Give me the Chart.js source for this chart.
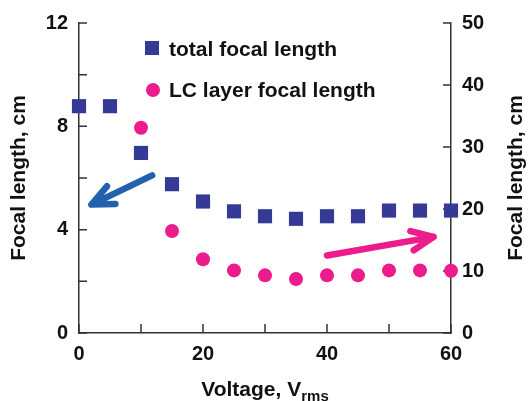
<!DOCTYPE html>
<html><head>
<meta charset="utf-8">
<script src="https://cdn.jsdelivr.net/npm/chart.js@4/dist/chart.umd.min.js"></script>
<style>
  html, body { margin: 0; padding: 0; background: #fff; }
  canvas { display: block; }
</style>
</head>
<body>
<canvas id="myChart" width="529" height="401"></canvas>
<script>
// total focal length (left axis, cm)
var voltage = [0, 5, 10, 15, 20, 25, 30, 35, 40, 45, 50, 55, 60];
var totalFocal = [8.78, 8.78, 6.97, 5.76, 5.09, 4.71, 4.52, 4.42, 4.52, 4.52, 4.74, 4.74, 4.74];
// LC layer focal length (right axis, cm)
var lcVoltage = [10, 15, 20, 25, 30, 35, 40, 45, 50, 55, 60];
var lcFocal = [33.1, 16.45, 11.9, 10.1, 9.3, 8.7, 9.3, 9.3, 10.1, 10.1, 10.05];
var seriesNames = ['total focal length', 'LC layer focal length'];
// annotation arrows: [x0, y0, x1, y1] in data units
var blueArrow = [11.8, 6.1, 2.0, 4.97];   // left axis
var pinkArrow = [40.0, 12.5, 57.2, 15.5]; // right axis

var FONT = '"Liberation Sans", Arial, sans-serif';
var BLUE = '#343a95';
var PINK = '#ec1c8c';

function pts(xs, ys) {
  return xs.map(function(v, i) { return {x: v, y: ys[i]}; });
}

function arrow(ctx, x0, y0, x1, y1, color) {
  var ang = Math.atan2(y0 - y1, x0 - x1);
  var w = 24, spread = 24 * Math.PI / 180;
  ctx.strokeStyle = color;
  ctx.lineWidth = 6.5;
  ctx.lineCap = 'round';
  ctx.lineJoin = 'round';
  ctx.beginPath();
  ctx.moveTo(x0, y0);
  ctx.lineTo(x1, y1);
  ctx.moveTo(x1 + w * Math.cos(ang + spread), y1 + w * Math.sin(ang + spread));
  ctx.lineTo(x1, y1);
  ctx.lineTo(x1 + w * Math.cos(ang - spread), y1 + w * Math.sin(ang - spread));
  ctx.stroke();
}

var extras = {
  id: 'extras',
  beforeDatasetsDraw: function(chart) {
    var ctx = chart.ctx, a = chart.chartArea;
    var xs = chart.scales.x, yl = chart.scales.y, yr = chart.scales.y2;
    ctx.save();
    ctx.strokeStyle = '#333';
    ctx.lineWidth = 1.5;
    ctx.beginPath();
    yl.ticks.forEach(function(t) {
      var p = yl.getPixelForValue(t.value);
      ctx.moveTo(a.left, p); ctx.lineTo(a.left + 8, p);
    });
    yr.ticks.forEach(function(t) {
      var p = yr.getPixelForValue(t.value);
      ctx.moveTo(a.right, p); ctx.lineTo(a.right - 8, p);
    });
    xs.ticks.forEach(function(t) {
      var p = xs.getPixelForValue(t.value);
      ctx.moveTo(p, a.bottom); ctx.lineTo(p, a.bottom - 9);
    });
    ctx.stroke();

    arrow(ctx, xs.getPixelForValue(blueArrow[0]), yl.getPixelForValue(blueArrow[1]),
      xs.getPixelForValue(blueArrow[2]), yl.getPixelForValue(blueArrow[3]), '#2161ae');
    arrow(ctx, xs.getPixelForValue(pinkArrow[0]), yr.getPixelForValue(pinkArrow[1]),
      xs.getPixelForValue(pinkArrow[2]), yr.getPixelForValue(pinkArrow[3]), PINK);
    ctx.restore();
  },
  afterDraw: function(chart) {
    var ctx = chart.ctx, a = chart.chartArea;
    ctx.save();
    // legend
    ctx.fillStyle = BLUE;
    ctx.fillRect(145, 41, 14, 14);
    ctx.fillStyle = PINK;
    ctx.beginPath();
    ctx.arc(153, 90, 7, 0, Math.PI * 2);
    ctx.fill();
    ctx.fillStyle = '#111';
    ctx.font = 'bold 21px ' + FONT;
    ctx.textAlign = 'left';
    ctx.textBaseline = 'alphabetic';
    ctx.fillText(seriesNames[0], 169, 56);
    ctx.fillText(seriesNames[1], 169, 97);

    // axis titles
    ctx.textAlign = 'center';
    ctx.textBaseline = 'middle';
    var midY = (a.top + a.bottom) / 2;
    ctx.save();
    ctx.translate(19, midY);
    ctx.rotate(-Math.PI / 2);
    ctx.fillText('Focal length, cm', 0, 0);
    ctx.restore();
    ctx.save();
    ctx.translate(516, midY);
    ctx.rotate(-Math.PI / 2);
    ctx.fillText('Focal length, cm', 0, 0);
    ctx.restore();

    // x title with subscript
    var main = 'Voltage, V', sub = 'rms';
    ctx.font = 'bold 21px ' + FONT;
    var w1 = ctx.measureText(main).width;
    ctx.font = 'bold 15px ' + FONT;
    var w2 = ctx.measureText(sub).width;
    var x0 = (a.left + a.right) / 2 - (w1 + w2) / 2;
    ctx.textAlign = 'left';
    ctx.textBaseline = 'alphabetic';
    ctx.font = 'bold 21px ' + FONT;
    ctx.fillText(main, x0, 396);
    ctx.font = 'bold 15px ' + FONT;
    ctx.fillText(sub, x0 + w1, 401);
    ctx.restore();
  }
};

var tickFont = {family: FONT, size: 20, weight: 'bold'};

var ctx = document.getElementById('myChart');
var myChart = new Chart(ctx, {
  type: 'scatter',
  data: {
    datasets: [{
      label: seriesNames[0],
      data: pts(voltage, totalFocal),
      yAxisID: 'y',
      pointStyle: 'rect',
      pointRadius: 10,
      backgroundColor: BLUE,
      borderWidth: 0,
      clip: false
    }, {
      label: seriesNames[1],
      data: pts(lcVoltage, lcFocal),
      yAxisID: 'y2',
      pointStyle: 'circle',
      pointRadius: 7,
      backgroundColor: PINK,
      borderWidth: 0,
      clip: false
    }]
  },
  options: {
    responsive: false,
    animation: false,
    layout: {padding: {top: 19, left: 0, right: 0, bottom: 0}},
    plugins: {
      legend: {display: false},
      tooltip: {enabled: false}
    },
    scales: {
      x: {
        type: 'linear',
        min: 0, max: 60,
        afterFit: function(s) { s.height = 68; },
        grid: {display: false, drawTicks: false},
        border: {display: true, color: '#333', width: 1.5},
        ticks: {
          stepSize: 10, padding: 9, color: '#111', font: tickFont, maxRotation: 0,
          callback: function(v) { return v % 20 === 0 ? v : ''; }
        }
      },
      y: {
        position: 'left',
        min: 0, max: 12,
        afterFit: function(s) { s.width = 79; },
        grid: {display: false, drawTicks: false},
        border: {display: true, color: '#333', width: 1.5},
        ticks: {
          stepSize: 2, padding: 11, color: '#111', font: tickFont,
          callback: function(v) { return v % 4 === 0 ? v : ''; }
        }
      },
      y2: {
        position: 'right',
        min: 0, max: 50,
        afterFit: function(s) { s.width = 78; },
        grid: {display: false, drawTicks: false},
        border: {display: true, color: '#333', width: 1.5},
        ticks: {stepSize: 10, padding: 11, color: '#111', font: tickFont}
      }
    }
  },
  plugins: [extras]
});
</script>
</body></html>
